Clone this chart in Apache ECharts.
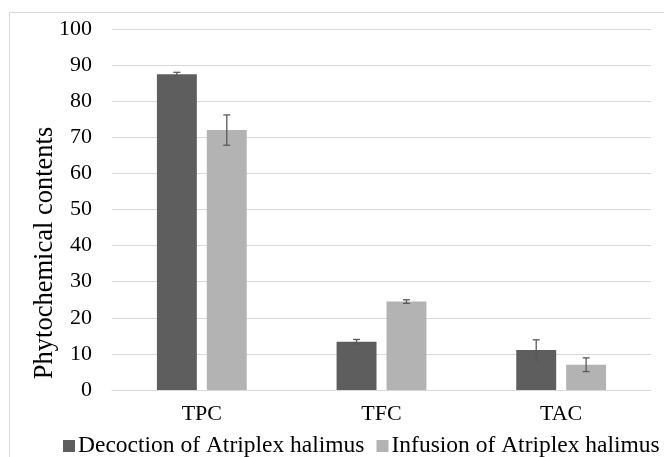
<!DOCTYPE html>
<html><head><meta charset="utf-8">
<script src="https://cdn.jsdelivr.net/npm/echarts@6/dist/echarts.min.js"></script>
<style>html,body{margin:0;padding:0;background:#fff}#c{width:664px;height:457px}</style>
</head><body><div id="c"></div>
<script>
var categories = ['TPC', 'TFC', 'TAC'];
var seriesNames = ['Decoction of Atriplex halimus', 'Infusion of Atriplex halimus'];
var decoction = [87.5, 13.4, 11.1];
var decoctionErr = [0.5, 0.6, 2.8];
var infusion = [72.0, 24.5, 7.0];
var infusionErr = [4.2, 0.5, 1.9];
var yTicks = [0, 10, 20, 30, 40, 50, 60, 70, 80, 90, 100];
var yTitle = 'Phytochemical contents';

var colors = ['#5e5e5e', '#b3b3b3'];
var font = 'Liberation Serif';

function errData(vals, errs) {
  return vals.map(function (v, i) { return [i, v - errs[i], v + errs[i]]; });
}
function errSeries(vals, errs, sign) {
  return {
    type: 'custom',
    data: errData(vals, errs),
    z: 10,
    silent: true,
    renderItem: function (params, api) {
      var band = api.size([1, 0])[0];
      var off = sign * band * 25 / 180;
      var lo = api.coord([api.value(0), api.value(1)]);
      var hi = api.coord([api.value(0), api.value(2)]);
      var x = lo[0] + off;
      var cap = 3.5;
      var st = { stroke: '#595959', lineWidth: 1.3 };
      return {
        type: 'group',
        children: [
          { type: 'line', shape: { x1: x, y1: lo[1], x2: x, y2: hi[1] }, style: st },
          { type: 'line', shape: { x1: x - cap, y1: lo[1], x2: x + cap, y2: lo[1] }, style: st },
          { type: 'line', shape: { x1: x - cap, y1: hi[1], x2: x + cap, y2: hi[1] }, style: st }
        ]
      };
    }
  };
}

var chart = echarts.init(document.getElementById('c'));
chart.setOption({
  animation: false,
  backgroundColor: '#fff',
  graphic: [{
    type: 'rect', shape: { x: 9.5, y: 12.5, width: 700, height: 500 },
    style: { fill: 'none', stroke: '#d9d9d9', lineWidth: 1 }, silent: true, z: -10
  }, {
    type: 'text', x: 45, y: 253, rotation: Math.PI / 2, silent: true,
    style: { text: yTitle, fontFamily: font, fontSize: 26.5, fill: '#000',
      align: 'center', verticalAlign: 'middle' }
  }],
  grid: { left: 112, right: 13, top: 29, bottom: 67 },
  legend: {
    data: seriesNames,
    top: 434,
    left: 63,
    padding: 0,
    itemWidth: 12, itemHeight: 12,
    itemGap: 12,
    icon: 'rect',
    textStyle: { fontFamily: font, fontSize: 23.5, color: '#000', padding: [0, 0, 0, -2] }
  },
  xAxis: {
    type: 'category',
    data: categories,
    axisTick: { show: false },
    axisLine: { lineStyle: { color: '#d9d9d9' } },
    axisLabel: { fontFamily: font, fontSize: 22, color: '#000', margin: 13 }
  },
  yAxis: {
    type: 'value',
    min: 0, max: 100, interval: 10,
    axisLabel: {
      fontFamily: font, fontSize: 22, color: '#000', margin: 20,
      formatter: function (v) { return yTicks.indexOf(v) >= 0 ? String(v) : ''; }
    },
    splitLine: { lineStyle: { color: '#d9d9d9', width: 1 } },
    axisLine: { show: false }, axisTick: { show: false }
  },
  series: [
    { name: seriesNames[0], type: 'bar', data: decoction, barCategoryGap: '50%', barGap: '25%',
      itemStyle: { color: colors[0] } },
    { name: seriesNames[1], type: 'bar', data: infusion, barCategoryGap: '50%', barGap: '25%',
      itemStyle: { color: colors[1] } },
    errSeries(decoction, decoctionErr, -1),
    errSeries(infusion, infusionErr, 1)
  ]
});
</script></body></html>
